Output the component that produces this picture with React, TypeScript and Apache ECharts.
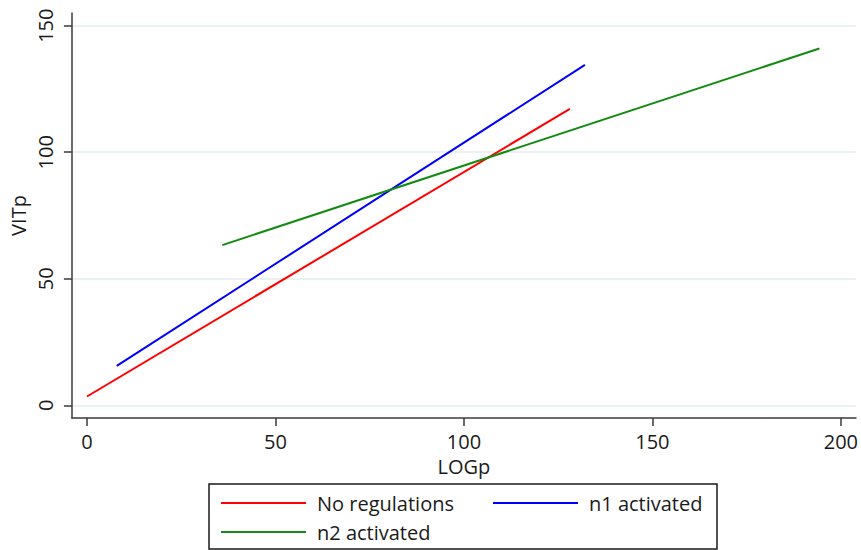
import React, { useEffect, useRef } from "react";
import * as echarts from "echarts";

const seriesNames = ["No regulations", "n1 activated", "n2 activated"];
const seriesColors = ["#ff0000", "#0000ff", "#138a13"];
// [LOGp, VITp] end points of each fitted line
const noRegulations = [[0, 3.5], [128.1, 117.1]];
const n1Activated = [[7.9, 15.6], [132.1, 134.5]];
const n2Activated = [[35.9, 63.3], [194.3, 141.0]];
const xTicks = [0, 50, 100, 150, 200];
const yTicks = [0, 50, 100, 150];

const FONT = "Open Sans";
const FS = 20;

export default function App() {
  const ref = useRef<HTMLDivElement>(null);
  useEffect(() => {
    if (!ref.current) return;
    const chart = echarts.init(ref.current, null, { renderer: "svg" });
    const axisLineStyle = { color: "#3a3a3a", width: 1.5 };
    const data = [noRegulations, n1Activated, n2Activated];
    chart.setOption({
      animation: false,
      backgroundColor: "#ffffff",
      grid: { left: 70, right: 4, top: 13, bottom: 132, containLabel: false },
      xAxis: {
        type: "value",
        min: -4,
        max: 204,
        name: "LOGp",
        nameLocation: "middle",
        nameGap: 31,
        nameTextStyle: { fontFamily: FONT, fontSize: FS, color: "#1a1a1a", verticalAlign: "top", lineHeight: 22 },
        axisLine: { show: true, onZero: false, lineStyle: axisLineStyle },
        axisTick: { show: true, customValues: xTicks, length: 8, lineStyle: axisLineStyle },
        axisLabel: { customValues: xTicks, margin: 13, fontFamily: FONT, fontSize: FS, color: "#1a1a1a" },
        splitLine: { show: false },
      },
      yAxis: {
        type: "value",
        min: -5,
        max: 155,
        name: "VITp",
        nameLocation: "middle",
        nameGap: 42,
        nameTextStyle: { fontFamily: FONT, fontSize: FS, color: "#1a1a1a" },
        axisLine: { show: true, onZero: false, lineStyle: axisLineStyle },
        axisTick: { show: true, customValues: yTicks, length: 8, lineStyle: axisLineStyle },
        axisLabel: { customValues: yTicks, rotate: 90, margin: 16, fontFamily: FONT, fontSize: FS, color: "#1a1a1a", align: "center", verticalAlign: "bottom" },
        splitLine: { show: true, lineStyle: { color: "#e4eeee", width: 1.5 } },
      },
      legend: {
        left: 209,
        top: 484,
        orient: "horizontal",
        width: 600,
        itemWidth: 85,
        itemHeight: 14,
        itemGap: 5,
        padding: [7, 13, 5, 11],
        borderColor: "#1a1a1a",
        borderWidth: 1.5,
        itemStyle: { opacity: 0 },
        textStyle: { fontFamily: FONT, fontSize: FS, color: "#1a1a1a", lineHeight: 24, padding: [0, 0, 0, 6], width: 170 },
        data: [
          { name: seriesNames[0] },
          { name: seriesNames[1], textStyle: { width: 115 } },
          { name: seriesNames[2] },
        ],
      },
      series: seriesNames.map((name, i) => ({
        name,
        type: "line",
        data: data[i],
        symbol: "none",
        color: seriesColors[i],
        lineStyle: { width: 2, color: seriesColors[i] },
      })),
    });
    return () => chart.dispose();
  }, []);
  return <div ref={ref} style={{ width: 861, height: 550, position: "absolute", left: 0, top: 0 }} />;
}
